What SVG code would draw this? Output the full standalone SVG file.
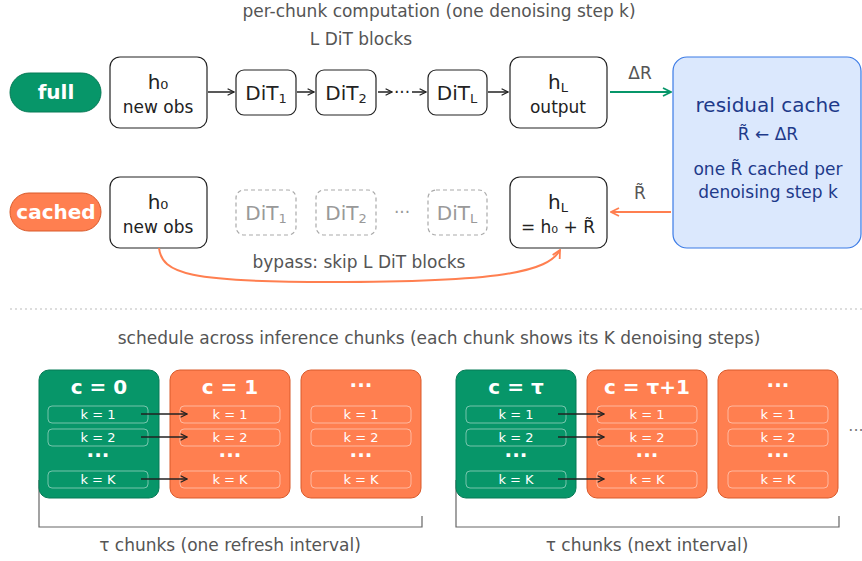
<svg xmlns="http://www.w3.org/2000/svg" width="862" height="561" viewBox="0 0 862 561">
<defs>
<style>
text{font-family:"DejaVu Sans","Liberation Sans",sans-serif;}
.cap{fill:#555;font-size:17px;text-anchor:middle;}
.node{fill:#fff;stroke:#222;stroke-width:1.2;}
.dash{fill:#fff;stroke:#aaa;stroke-width:1.2;stroke-dasharray:4,3;}
.nt{fill:#222;text-anchor:middle;}
.gt{fill:#999;text-anchor:middle;}
.pill{fill:#fff;font-size:20px;font-weight:bold;text-anchor:middle;}
.green{fill:#079669;stroke:#067a56;stroke-width:1;}
.orange{fill:#ff7f50;stroke:#d95a2b;stroke-width:1;}
.krow{fill:none;stroke:#fff;stroke-opacity:0.45;stroke-width:1;}
.kt{fill:#fff;font-size:13px;text-anchor:middle;}
.ct{fill:#fff;font-size:20px;font-weight:bold;text-anchor:middle;}
.blk{stroke:#222;stroke-width:1.5;fill:none;}
.blue{fill:#1e3a8a;text-anchor:middle;}
</style>
<marker id="ab" viewBox="0 0 10 10" refX="9" refY="5" markerWidth="8" markerHeight="8" orient="auto" markerUnits="userSpaceOnUse"><path d="M1,1 L9,5 L1,9" fill="none" stroke="#222" stroke-width="1.5"/></marker>
<marker id="ag" viewBox="0 0 10 10" refX="9" refY="5" markerWidth="10" markerHeight="10" orient="auto" markerUnits="userSpaceOnUse"><path d="M1,1 L9,5 L1,9" fill="none" stroke="#079669" stroke-width="1.8"/></marker>
<marker id="ao" viewBox="0 0 10 10" refX="9" refY="5" markerWidth="10" markerHeight="10" orient="auto" markerUnits="userSpaceOnUse"><path d="M1,1 L9,5 L1,9" fill="none" stroke="#ff7f50" stroke-width="1.8"/></marker>
</defs>
<rect width="862" height="561" fill="#fff"/>

<text class="cap" x="439" y="17">per-chunk computation (one denoising step k)</text>
<text class="cap" x="361" y="45">L DiT blocks</text>

<g id="full-label"><rect class="green" x="10" y="73" width="91" height="39" rx="19.5"/><text class="pill" x="56" y="99">full</text></g>
<g id="full-h0"><rect class="node" x="110" y="57" width="97" height="71" rx="10"/><text class="nt" x="158" y="89" font-size="20">h₀</text><text class="nt" x="158" y="113" font-size="17">new obs</text></g>
<g id="full-dit1"><rect class="node" x="236" y="70" width="60" height="45" rx="8"/><text class="nt" x="266" y="100" font-size="20">DiT<tspan font-size="13" dy="3">1</tspan></text></g>
<g id="full-dit2"><rect class="node" x="316" y="70" width="60" height="45" rx="8"/><text class="nt" x="346" y="100" font-size="20">DiT<tspan font-size="13" dy="3">2</tspan></text></g>
<g id="full-ellipsis"><text class="nt" x="402" y="98" font-size="17">···</text></g>
<g id="full-ditL"><rect class="node" x="428" y="70" width="59" height="45" rx="8"/><text class="nt" x="457" y="100" font-size="20">DiT<tspan font-size="13" dy="3">L</tspan></text></g>
<g id="full-hL"><rect class="node" x="510" y="57" width="97" height="71" rx="10"/><text class="nt" x="558" y="89" font-size="20">h<tspan font-size="13" dy="3">L</tspan></text><text class="nt" x="558" y="113" font-size="17">output</text></g>

<g id="cache"><rect x="673" y="57" width="188" height="191" rx="14" fill="#dbe8fd" stroke="#3b7be6" stroke-width="1.2"/>
<text class="blue" x="768" y="112" font-size="20">residual cache</text>
<text class="blue" x="768" y="140" font-size="17">R̃ ← ΔR</text>
<text class="blue" x="768" y="175" font-size="17">one R̃ cached per</text>
<text class="blue" x="768" y="198" font-size="17">denoising step k</text></g>

<g id="cached-label"><rect class="orange" x="10" y="193" width="91" height="38" rx="19"/><text class="pill" x="56" y="219">cached</text></g>
<g id="cached-h0"><rect class="node" x="110" y="177" width="97" height="71" rx="10"/><text class="nt" x="158" y="209" font-size="20">h₀</text><text class="nt" x="158" y="233" font-size="17">new obs</text></g>
<g id="cached-dit1"><rect class="dash" x="236" y="190" width="60" height="45" rx="8"/><text class="gt" x="266" y="220" font-size="20">DiT<tspan font-size="13" dy="3">1</tspan></text></g>
<g id="cached-dit2"><rect class="dash" x="316" y="190" width="60" height="45" rx="8"/><text class="gt" x="346" y="220" font-size="20">DiT<tspan font-size="13" dy="3">2</tspan></text></g>
<g id="cached-ellipsis"><text class="gt" x="402" y="218" font-size="17">···</text></g>
<g id="cached-ditL"><rect class="dash" x="428" y="190" width="59" height="45" rx="8"/><text class="gt" x="457" y="220" font-size="20">DiT<tspan font-size="13" dy="3">L</tspan></text></g>
<g id="cached-hL"><rect class="node" x="510" y="177" width="97" height="71" rx="10"/><text class="nt" x="558" y="209" font-size="20">h<tspan font-size="13" dy="3">L</tspan></text><text class="nt" x="558" y="233" font-size="17">= h₀ + R̃</text></g>

<g id="connectors">
<line class="blk" x1="208" y1="92" x2="234" y2="92" marker-end="url(#ab)"/>
<line class="blk" x1="297" y1="92" x2="314" y2="92" marker-end="url(#ab)"/>
<line class="blk" x1="378" y1="92" x2="392" y2="92" marker-end="url(#ab)"/>
<line class="blk" x1="412" y1="92" x2="426" y2="92" marker-end="url(#ab)"/>
<line class="blk" x1="488" y1="92" x2="508" y2="92" marker-end="url(#ab)"/>
<line x1="610" y1="92" x2="671" y2="92" stroke="#079669" stroke-width="2" marker-end="url(#ag)"/>
<text class="cap" x="640" y="79">ΔR</text>
<line x1="671" y1="212" x2="611" y2="212" stroke="#ff7f50" stroke-width="2" marker-end="url(#ao)"/>
<text class="cap" x="640" y="199">R̃</text>
<path d="M159,248 C162,274 190,282 330,282 C500,282 548,272 560,250" fill="none" stroke="#ff7f50" stroke-width="2" marker-end="url(#ao)"/>
<text class="cap" x="359" y="268">bypass: skip L DiT blocks</text>
</g>

<line x1="10" y1="309" x2="862" y2="309" stroke="#bbb" stroke-width="1" stroke-dasharray="2,3"/>
<text class="cap" x="439" y="344">schedule across inference chunks (each chunk shows its K denoising steps)</text>

<g id="brackets" fill="none" stroke="#666" stroke-width="1.2">
<path d="M39,480 V527 H422 V516"/>
<path d="M456,480 V527 H839 V516"/>
</g>

<g id="chunk-c0"><rect class="green" x="39" y="370" width="120" height="128" rx="10"/><text class="ct" x="99" y="394">c = 0</text>
<rect class="krow" x="48" y="406" width="100" height="17" rx="4"/><text class="kt" x="98" y="419">k = 1</text>
<rect class="krow" x="48" y="429" width="100" height="17" rx="4"/><text class="kt" x="98" y="442">k = 2</text>
<text class="ct" x="98" y="462" font-size="16">···</text>
<rect class="krow" x="48" y="471" width="100" height="17" rx="4"/><text class="kt" x="98" y="484">k = K</text></g>
<g id="chunk-c1"><rect class="orange" x="170" y="370" width="120" height="128" rx="10"/><text class="ct" x="230" y="394">c = 1</text>
<rect class="krow" x="180" y="406" width="100" height="17" rx="4"/><text class="kt" x="230" y="419">k = 1</text>
<rect class="krow" x="180" y="429" width="100" height="17" rx="4"/><text class="kt" x="230" y="442">k = 2</text>
<text class="ct" x="230" y="462" font-size="16">···</text>
<rect class="krow" x="180" y="471" width="100" height="17" rx="4"/><text class="kt" x="230" y="484">k = K</text></g>
<g id="chunk-c2"><rect class="orange" x="301" y="370" width="120" height="128" rx="10"/><text class="ct" x="361" y="392">···</text>
<rect class="krow" x="311" y="406" width="100" height="17" rx="4"/><text class="kt" x="361" y="419">k = 1</text>
<rect class="krow" x="311" y="429" width="100" height="17" rx="4"/><text class="kt" x="361" y="442">k = 2</text>
<text class="ct" x="361" y="462" font-size="16">···</text>
<rect class="krow" x="311" y="471" width="100" height="17" rx="4"/><text class="kt" x="361" y="484">k = K</text></g>

<g id="chunk-ctau"><rect class="green" x="456" y="370" width="120" height="128" rx="10"/><text class="ct" x="516" y="394">c = τ</text>
<rect class="krow" x="466" y="406" width="100" height="17" rx="4"/><text class="kt" x="516" y="419">k = 1</text>
<rect class="krow" x="466" y="429" width="100" height="17" rx="4"/><text class="kt" x="516" y="442">k = 2</text>
<text class="ct" x="516" y="462" font-size="16">···</text>
<rect class="krow" x="466" y="471" width="100" height="17" rx="4"/><text class="kt" x="516" y="484">k = K</text></g>
<g id="chunk-ctau1"><rect class="orange" x="587" y="370" width="120" height="128" rx="10"/><text class="ct" x="647" y="394">c = τ+1</text>
<rect class="krow" x="597" y="406" width="100" height="17" rx="4"/><text class="kt" x="647" y="419">k = 1</text>
<rect class="krow" x="597" y="429" width="100" height="17" rx="4"/><text class="kt" x="647" y="442">k = 2</text>
<text class="ct" x="647" y="462" font-size="16">···</text>
<rect class="krow" x="597" y="471" width="100" height="17" rx="4"/><text class="kt" x="647" y="484">k = K</text></g>
<g id="chunk-ctau2"><rect class="orange" x="718" y="370" width="120" height="128" rx="10"/><text class="ct" x="778" y="392">···</text>
<rect class="krow" x="728" y="406" width="100" height="17" rx="4"/><text class="kt" x="778" y="419">k = 1</text>
<rect class="krow" x="728" y="429" width="100" height="17" rx="4"/><text class="kt" x="778" y="442">k = 2</text>
<text class="ct" x="778" y="462" font-size="16">···</text>
<rect class="krow" x="728" y="471" width="100" height="17" rx="4"/><text class="kt" x="778" y="484">k = K</text></g>
<text x="856" y="436" fill="#777" font-size="16" text-anchor="middle">···</text>

<g id="chunk-connectors">
<line class="blk" x1="141" y1="414" x2="187" y2="414" marker-end="url(#ab)"/>
<line class="blk" x1="141" y1="437" x2="187" y2="437" marker-end="url(#ab)"/>
<line class="blk" x1="141" y1="479" x2="187" y2="479" marker-end="url(#ab)"/>
<line class="blk" x1="558" y1="414" x2="604" y2="414" marker-end="url(#ab)"/>
<line class="blk" x1="558" y1="437" x2="604" y2="437" marker-end="url(#ab)"/>
<line class="blk" x1="558" y1="479" x2="604" y2="479" marker-end="url(#ab)"/>
</g>

<text class="cap" x="230" y="551">τ chunks (one refresh interval)</text>
<text class="cap" x="647" y="551">τ chunks (next interval)</text>
</svg>
